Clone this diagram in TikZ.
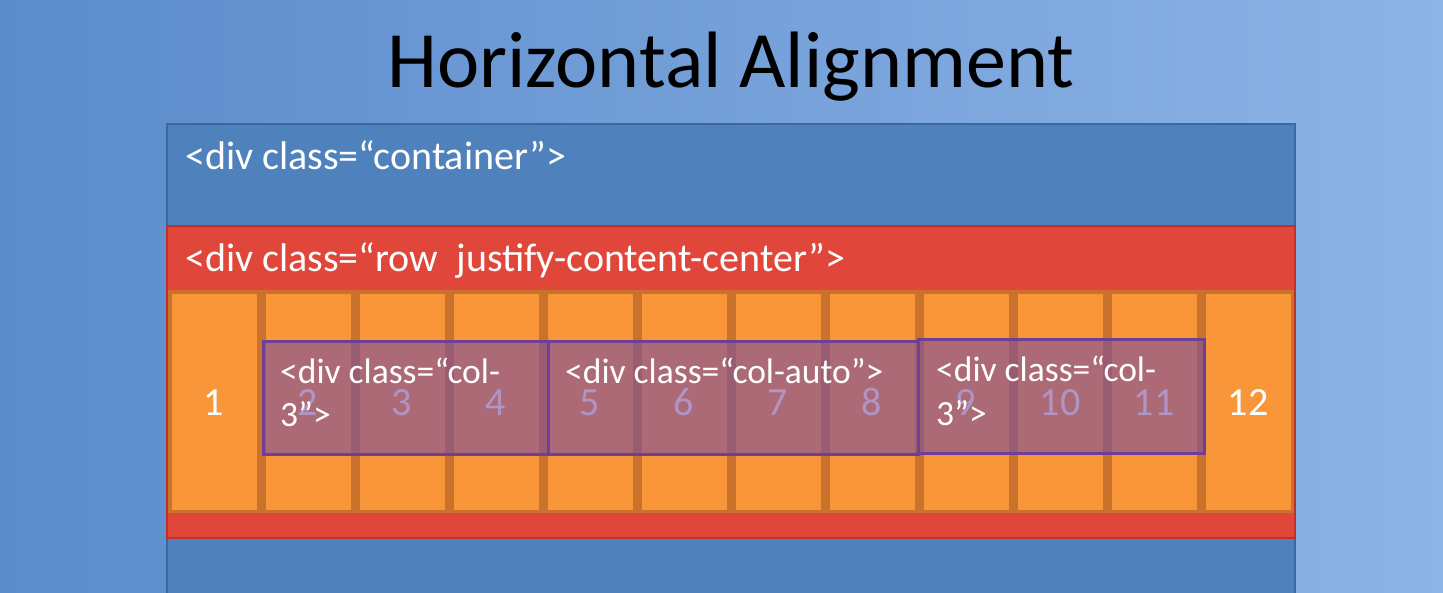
\documentclass[tikz,border=0pt]{standalone}
\usepackage{fontspec}
\setmainfont{Carlito}
\usetikzlibrary{calc}
\definecolor{bgL}{HTML}{5B8BCB}
\definecolor{bgR}{HTML}{8DB4E6}
\definecolor{contfill}{HTML}{4F81BD}
\definecolor{contline}{HTML}{3B67A3}
\definecolor{rowfill}{HTML}{E0473A}
\definecolor{rowline}{HTML}{BF3128}
\definecolor{gapfill}{HTML}{C9722B}
\definecolor{cellfill}{HTML}{F9963A}
\definecolor{colfill}{HTML}{7A4E9E}
\definecolor{colline}{HTML}{6E3F98}
\tikzset{
  box/.style={anchor=north west, inner sep=0pt, outer sep=0pt},
  container/.style={box, fill=contfill, draw=contline, line width=2.5pt},
  rowbox/.style={box, fill=rowfill, draw=rowline, line width=2.5pt},
  gapbox/.style={box, fill=gapfill},
  cellbox/.style={box, fill=cellfill, minimum width=85pt, minimum height=216pt},
  colbox/.style={box, fill=colfill, fill opacity=0.6, draw=colline, draw opacity=1, line width=3pt},
  label/.style={anchor=base west, inner sep=0pt, text=white, font=\fontsize{40}{46}\selectfont},
  collabel/.style={anchor=base west, inner sep=0pt, text=white, font=\fontsize{35.5}{43}\selectfont},
  num/.style={anchor=base, inner sep=0pt, text=white, font=\fontsize{40}{46}\selectfont},
  title/.style={anchor=base, inner sep=0pt, text=black, font=\fontsize{80}{90}\selectfont}
}
\begin{document}
\begin{tikzpicture}[x=1pt,y=-1pt]
\clip (0,0) rectangle (1443,593);
\shade[left color=bgL, right color=bgR] (0,0) rectangle (1443,593);
\node[title] (title) at (731,88) {Horizontal Alignment};
% container
\node[container, minimum width=1128pt, minimum height=520pt] (cont) at (167,124) {};
\node[label] (contlbl) at (185,170) {<div class=“container”>};
% row
\node[rowbox, minimum width=1128pt, minimum height=312pt] (row) at (167,226) {};
\node[label] (rowlbl) at (185,272) {<div class=“row\ \ justify-content-center”>};
% gap background
\node[gapbox, minimum width=1126pt, minimum height=223pt] (gaps) at (168,290) {};
% cells
\foreach \i in {1,...,12}{
  \node[cellbox] (c\i) at ({171.5+(\i-1)*94},294) {};
  \node[num] (n\i) at ($(c\i.center)+(0,14)$) {\i};
}
% column boxes
\node[colbox, minimum width=285pt, minimum height=112pt] (colA) at (263,342) {};
\node[colbox, minimum width=370pt, minimum height=112pt] (colB) at (548,342) {};
\node[colbox, minimum width=286pt, minimum height=113pt] (colC) at (918,340) {};
\node[collabel] (lblA1) at (280,384) {<div class=“col-};
\node[collabel] (lblA2) at (280,427) {3”>};
\node[collabel] (lblB) at (565,384) {<div class=“col-auto”>};
\node[collabel] (lblC1) at (936,382) {<div class=“col-};
\node[collabel] (lblC2) at (936,425) {3”>};
\end{tikzpicture}
\end{document}
